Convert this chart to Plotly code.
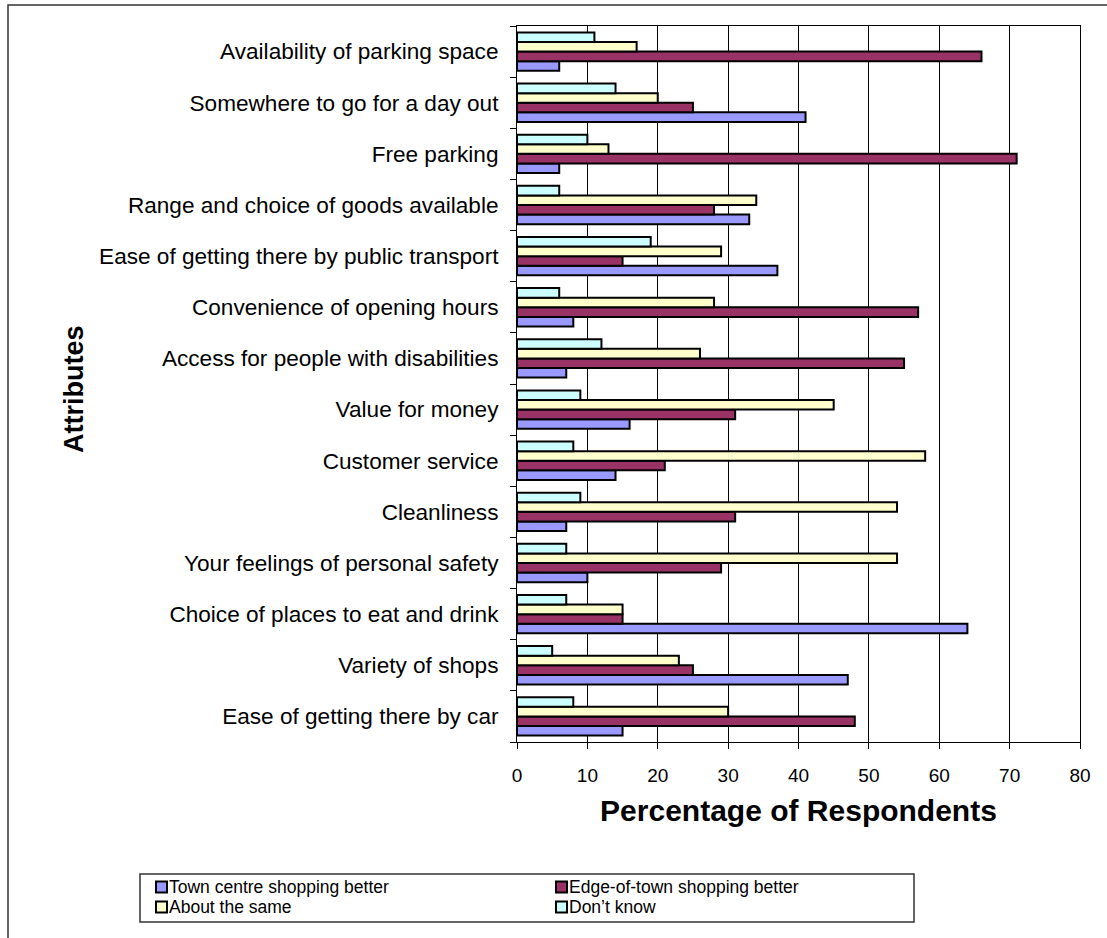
import plotly.graph_objects as go

categories = [
    "Ease of getting there by car",
    "Variety of shops",
    "Choice of places to eat and drink",
    "Your feelings of personal safety",
    "Cleanliness",
    "Customer service",
    "Value for money",
    "Access for people with disabilities",
    "Convenience of opening hours",
    "Ease of getting there by public transport",
    "Range and choice of goods available",
    "Free parking",
    "Somewhere to go for a day out",
    "Availability of parking space",
]
town_centre = [15, 47, 64, 10, 7, 14, 16, 7, 8, 37, 33, 6, 41, 6]
edge_of_town = [48, 25, 15, 29, 31, 21, 31, 55, 57, 15, 28, 71, 25, 66]
about_same = [30, 23, 15, 54, 54, 58, 45, 26, 28, 29, 34, 13, 20, 17]
dont_know = [8, 5, 7, 7, 9, 8, 9, 12, 6, 19, 6, 10, 14, 11]

series_names = ["Town centre shopping better", "Edge-of-town shopping better",
                "About the same", "Don\u2019t know"]
series_values = [town_centre, edge_of_town, about_same, dont_know]
series_colors = ["#9999FF", "#993366", "#FFFFCC", "#CCFFFF"]

FONT = "Arial, Liberation Sans, sans-serif"

fig = go.Figure()
for name, vals, col in zip(series_names, series_values, series_colors):
    fig.add_trace(go.Bar(
        y=categories, x=vals, name=name, orientation="h",
        marker=dict(color=col, line=dict(color="black", width=2)),
    ))

W, H = 1107, 938
L, R, T, B = 517, 27, 26, 196
pw = W - L - R
ph = H - T - B


def px_x(x):
    return (x - L) / pw


def px_y(y):
    return (H - B - y) / ph


shapes = [dict(
    type="rect", xref="paper", yref="paper",
    x0=px_x(8), x1=px_x(1200), y0=px_y(1100), y1=px_y(5),
    line=dict(color="#333333", width=1.5), layer="below",
)]
# legend box
shapes.append(dict(
    type="rect", xref="paper", yref="paper",
    x0=px_x(140), x1=px_x(914), y0=px_y(922), y1=px_y(874),
    line=dict(color="#333333", width=1.5), fillcolor="white", layer="above",
))

annotations = [
    dict(text="<b>Attributes</b>", xref="paper", yref="paper",
         x=px_x(74), y=px_y(389), textangle=-90, showarrow=False,
         xanchor="center", yanchor="middle", font=dict(size=27, family=FONT, color="black")),
]

leg_cols = [156, 556]
leg_rows = [887, 907]
for i, (name, col) in enumerate(zip(series_names, series_colors)):
    cx = leg_cols[i % 2]
    cy = leg_rows[i // 2]
    shapes.append(dict(
        type="rect", xref="paper", yref="paper",
        x0=px_x(cx), x1=px_x(cx + 11), y0=px_y(cy + 5.5), y1=px_y(cy - 5.5),
        fillcolor=col, line=dict(color="black", width=2), layer="above",
    ))
    annotations.append(dict(
        text=name, xref="paper", yref="paper", x=px_x(cx + 12), y=px_y(cy),
        xanchor="left", yanchor="middle", showarrow=False, borderpad=0,
        font=dict(size=17.5, family=FONT, color="black"),
    ))

fig.update_layout(
    width=W, height=H,
    margin=dict(l=L, r=R, t=T, b=B, autoexpand=False),
    paper_bgcolor="white", plot_bgcolor="white",
    font=dict(family=FONT, color="black", size=16),
    barmode="group", bargap=0.25, bargroupgap=0,
    showlegend=False,
    xaxis=dict(
        range=[0, 80], dtick=10, tick0=0,
        showgrid=True, gridcolor="black", gridwidth=1,
        showline=True, linecolor="black", linewidth=1, mirror=True,
        ticks="outside", ticklen=6, tickcolor="black",
        tickfont=dict(size=19), ticklabelstandoff=10,
        zeroline=False, automargin=False,
        title=dict(text="<b>Percentage of Respondents</b>", font=dict(size=30), standoff=15),
    ),
    yaxis=dict(
        type="category", categoryorder="array", categoryarray=categories,
        showline=True, linecolor="black", linewidth=1, mirror=True,
        ticks="outside", ticklen=6, tickcolor="black", tickson="boundaries",
        tickfont=dict(size=22.6), ticklabelstandoff=13,
        showgrid=False, automargin=False,
    ),
    shapes=shapes,
    annotations=annotations,
)

fig.write_html(
    "out.html",
    config={"displayModeBar": False},
    post_script="document.body.style.margin='0';document.body.style.overflow='hidden';",
)
